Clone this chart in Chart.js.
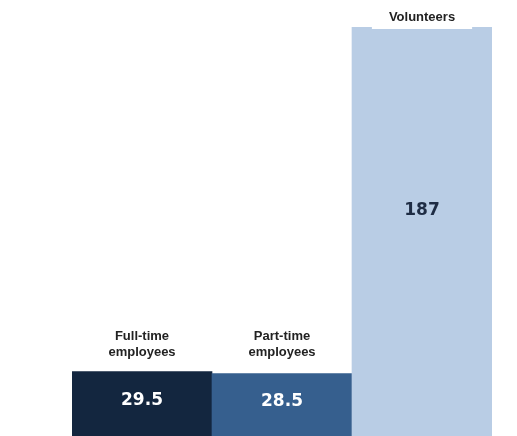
<!DOCTYPE html>
<html>
<head>
<meta charset="utf-8">
<script src="https://cdn.jsdelivr.net/npm/chart.js@4/dist/chart.umd.min.js"></script>
<style>
  body { margin: 0; background: #fff; }
  canvas { display: block; }
</style>
</head>
<body>
<canvas id="staffChart" width="517" height="436"></canvas>
<script>
const categories = [["Full-time", "employees"], ["Part-time", "employees"], ["Volunteers"]];
const values = [29.5, 28.5, 187];
const barColors = ["#13263f", "#365f8e", "#b9cde5"];
const valueColors = ["#ffffff", "#ffffff", "#1e2c44"];

/* labels on and above the bars */
const barLabels = {
    id: "barLabels",
    afterDatasetsDraw(chart) {
        const ctx = chart.ctx;
        const meta = chart.getDatasetMeta(0);
        const yScale = chart.scales.y;
        ctx.save();
        ctx.textAlign = "center";
        ctx.textBaseline = "middle";

        meta.data.forEach(function (bar, i) {
            // value inside the bar
            ctx.font = "bold 17px 'DejaVu Sans'";
            ctx.fillStyle = valueColors[i];
            ctx.fillText(String(values[i]), bar.x, yScale.getPixelForValue(values[i] * 0.55));

            // category name above the bar
            const lines = categories[i];
            ctx.font = "bold 13px 'Liberation Sans', Arial";
            let lastY;
            if (lines.length > 1) {
                lastY = Math.min(meta.data[0].y, meta.data[1].y) - 19;
            } else {
                lastY = bar.y - 10;
                const w = ctx.measureText(lines[0]).width + 34;
                ctx.fillStyle = "#ffffff";
                ctx.fillRect(bar.x - w / 2, lastY - 12, w, bar.y + 2 - (lastY - 12));
            }
            ctx.fillStyle = "#222222";
            lines.forEach(function (line, j) {
                ctx.fillText(line, bar.x, lastY - (lines.length - 1 - j) * 16);
            });
        });
        ctx.restore();
    }
};

new Chart(document.getElementById("staffChart"), {
    type: "bar",
    data: {
        labels: categories,
        datasets: [{
            data: values,
            backgroundColor: barColors,
            borderWidth: 0,
            categoryPercentage: 1,
            barPercentage: 1
        }]
    },
    options: {
        responsive: false,
        animation: false,
        layout: { padding: { left: 72, right: 25, top: 27, bottom: 0 } },
        plugins: {
            legend: { display: false },
            tooltip: { enabled: false }
        },
        scales: {
            x: { display: false },
            y: { display: false, min: 0, max: 187 }
        }
    },
    plugins: [barLabels]
});
</script>
</body>
</html>
